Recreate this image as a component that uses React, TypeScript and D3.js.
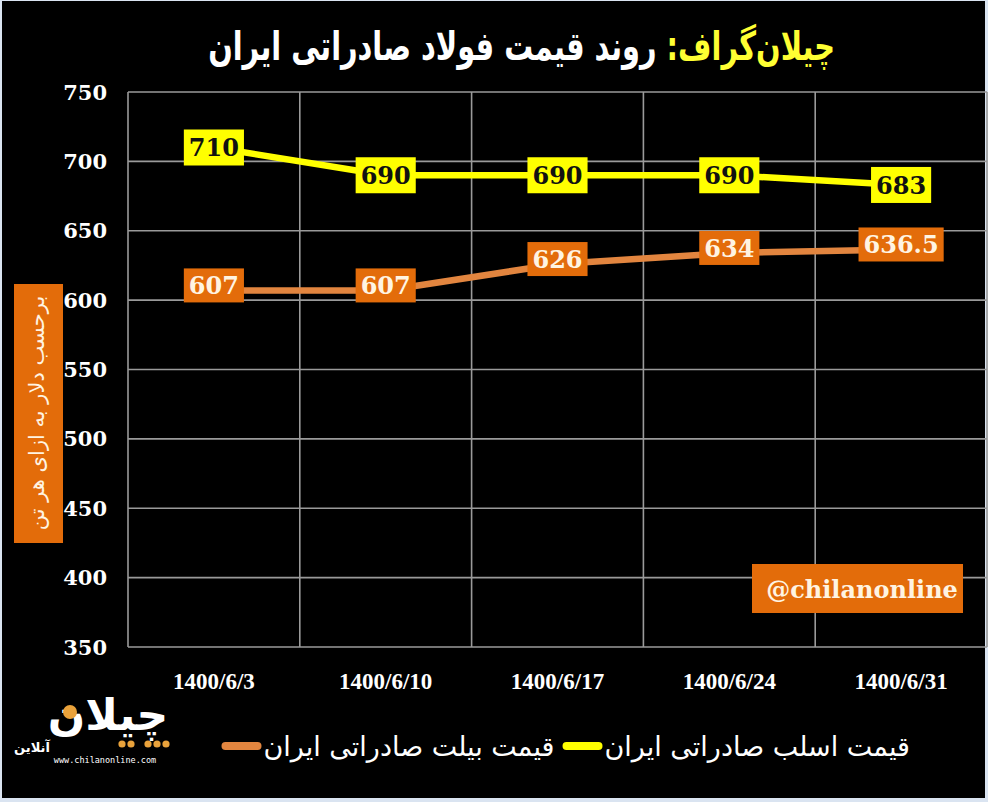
import React, { useEffect, useRef } from "react";
import * as d3 from "d3";

// chart values
const categories = ["1400/6/3", "1400/6/10", "1400/6/17", "1400/6/24", "1400/6/31"];
const slabPrices = [710, 690, 690, 690, 683];
const billetPrices = [607, 607, 626, 634, 636.5];
const yTicks = [350, 400, 450, 500, 550, 600, 650, 700, 750];

const slabName = "قیمت اسلب صادراتی ایران";
const billetName = "قیمت بیلت صادراتی ایران";
const titleBrand = "چیلان‌گراف:";
const titleText = "روند قیمت فولاد صادراتی ایران";
const yAxisTitle = "برحسب دلار به ازای هر تن";
const watermark = "@chilanonline";

const W = 988;
const H = 802;
const PERSIAN = "'DejaVu Sans', 'Noto Sans', sans-serif";
const SERIF = "'DejaVu Serif', serif";

const App = () => {
  const ref = useRef<SVGSVGElement>(null);

  useEffect(() => {
    const svg = d3.select(ref.current);
    svg.selectAll("*").remove();

    const margin = { top: 92, right: 1, bottom: 155, left: 128 };

    // frame
    svg.append("rect").attr("width", W).attr("height", H).attr("fill", "#dae4f1");
    svg
      .append("rect")
      .attr("x", 2)
      .attr("y", 1)
      .attr("width", W - 5)
      .attr("height", H - 5)
      .attr("fill", "#000");

    //scales
    const x = d3
      .scaleBand<string>()
      .domain(categories)
      .range([margin.left, W - margin.right]);
    const y = d3
      .scaleLinear()
      .domain([350, 750])
      .range([H - margin.bottom, margin.top]);

    const grid = svg.append("g").attr("stroke", "#9a9a9a").attr("stroke-width", 1.6);
    // horizontal grid
    grid
      .selectAll("line.h")
      .data(yTicks)
      .enter()
      .append("line")
      .attr("class", "h")
      .attr("x1", margin.left)
      .attr("x2", W - margin.right)
      .attr("y1", (d) => y(d))
      .attr("y2", (d) => y(d));
    // vertical grid at category boundaries
    const bounds = categories.map((c) => x(c) as number).concat([W - margin.right]);
    grid
      .selectAll("line.v")
      .data(bounds)
      .enter()
      .append("line")
      .attr("class", "v")
      .attr("x1", (d) => d)
      .attr("x2", (d) => d)
      .attr("y1", y(750))
      .attr("y2", y(350));

    // y tick labels
    svg
      .append("g")
      .selectAll("text")
      .data(yTicks)
      .enter()
      .append("text")
      .attr("x", 107)
      .attr("y", (d) => y(d))
      .attr("dy", "0.36em")
      .attr("text-anchor", "end")
      .attr("fill", "#fff")
      .attr("font-family", SERIF)
      .attr("font-weight", "bold")
      .attr("font-size", 21)
      .text((d) => d);

    // x tick labels
    const cx = (c: string) => (x(c) as number) + x.bandwidth() / 2;
    svg
      .append("g")
      .selectAll("text")
      .data(categories)
      .enter()
      .append("text")
      .attr("x", (d) => cx(d))
      .attr("y", 689)
      .attr("text-anchor", "middle")
      .attr("fill", "#fff")
      .attr("font-family", "'Liberation Serif', serif")
      .attr("font-weight", "bold")
      .attr("font-size", 23)
      .text((d) => d);

    const series = [
      { name: slabName, values: slabPrices, line: "#ffff00", box: "#ffff00", ink: "#111", dy: 0 },
      { name: billetName, values: billetPrices, line: "#e2853f", box: "#e36c0a", ink: "#fff4e2", dy: -5 },
    ];

    // lines
    const line = d3
      .line<number>()
      .x((d, i) => cx(categories[i]))
      .y((d) => y(d));

    series.forEach((s) => {
      svg
        .append("path")
        .datum(s.values)
        .attr("fill", "none")
        .attr("stroke", s.line)
        .attr("stroke-width", 6.5)
        .attr("stroke-linejoin", "round")
        .attr("d", line);
    });

    // data labels
    series.forEach((s) => {
      s.values.forEach((v, i) => {
        const g = svg
          .append("g")
          .attr("transform", `translate(${cx(categories[i])},${y(v) + s.dy})`);
        const rect = g.append("rect").attr("fill", s.box);
        const t = g
          .append("text")
          .attr("text-anchor", "middle")
          .attr("dy", "0.37em")
          .attr("fill", s.ink)
          .attr("font-family", SERIF)
          .attr("font-weight", "bold")
          .attr("font-size", 24)
          .text(v);
        const w = (t.node() as SVGTextElement).getComputedTextLength() + 10;
        const h = s.dy === 0 ? 36 : 34;
        rect
          .attr("x", -w / 2)
          .attr("y", -h / 2)
          .attr("width", w)
          .attr("height", h);
      });
    });

    // title, squeezed horizontally like the condensed original face
    const title = svg.append("g").attr("transform", "translate(835,60) scale(0.72,1)");
    const brand = title
      .append("text")
      .attr("text-anchor", "middle")
      .attr("direction", "rtl")
      .attr("fill", "#ffff33")
      .attr("font-family", PERSIAN)
      .attr("font-weight", "bold")
      .attr("font-size", 40)
      .text(titleBrand);
    const bw = (brand.node() as SVGTextElement).getComputedTextLength();
    brand.attr("x", -bw / 2);
    const main = title
      .append("text")
      .attr("text-anchor", "middle")
      .attr("direction", "rtl")
      .attr("fill", "#fff")
      .attr("font-family", PERSIAN)
      .attr("font-weight", "bold")
      .attr("font-size", 40)
      .text(titleText);
    const mw = (main.node() as SVGTextElement).getComputedTextLength();
    main.attr("x", -bw - 14 - mw / 2);

    // y axis title
    svg
      .append("rect")
      .attr("x", 14)
      .attr("y", 284)
      .attr("width", 49)
      .attr("height", 259)
      .attr("fill", "#e36c0a");
    svg
      .append("text")
      .attr("transform", "translate(38,413) rotate(-90)")
      .attr("text-anchor", "middle")
      .attr("dy", "0.3em")
      .attr("direction", "rtl")
      .attr("fill", "#fff4e2")
      .attr("font-family", PERSIAN)
      .attr("font-size", 21)
      .text(yAxisTitle);

    // watermark
    svg
      .append("rect")
      .attr("x", 752)
      .attr("y", 564)
      .attr("width", 211)
      .attr("height", 49)
      .attr("fill", "#e36c0a");
    svg
      .append("text")
      .attr("x", 862)
      .attr("y", 589)
      .attr("dy", "0.36em")
      .attr("text-anchor", "middle")
      .attr("fill", "#fff4e2")
      .attr("font-family", SERIF)
      .attr("font-weight", "bold")
      .attr("font-size", 24)
      .text(watermark);

    // legend, laid out right to left
    let lx = 910;
    series.forEach((s) => {
      const t = svg
        .append("text")
        .attr("y", 756)
        .attr("text-anchor", "middle")
        .attr("direction", "rtl")
        .attr("fill", "#fff")
        .attr("font-family", PERSIAN)
        .attr("font-size", 27)
        .text(s.name);
      const tw = (t.node() as SVGTextElement).getComputedTextLength();
      t.attr("x", lx - tw / 2);
      lx -= tw + 6;
      svg
        .append("line")
        .attr("x1", lx)
        .attr("x2", lx - 32)
        .attr("y1", 746)
        .attr("y2", 746)
        .attr("stroke", s.line)
        .attr("stroke-width", 8)
        .attr("stroke-linecap", "round");
      lx -= 44;
    });

    // logo
    const logo = svg.append("g");
    logo
      .append("text")
      .attr("x", 108)
      .attr("y", 730)
      .attr("text-anchor", "middle")
      .attr("fill", "#fff")
      .attr("font-family", PERSIAN)
      .attr("font-weight", "bold")
      .attr("font-size", 44)
      .text("چیلان");
    logo.append("circle").attr("cx", 70).attr("cy", 712).attr("r", 7).attr("fill", "#e9a23b");
    [122, 131, 148, 157, 166].forEach((c) =>
      logo.append("circle").attr("cx", c).attr("cy", 744).attr("r", 3.6).attr("fill", "#e9a23b")
    );
    logo
      .append("text")
      .attr("x", 32)
      .attr("y", 752)
      .attr("text-anchor", "middle")
      .attr("fill", "#fff")
      .attr("font-family", PERSIAN)
      .attr("font-weight", "bold")
      .attr("font-size", 13)
      .text("آنلاین");
    logo
      .append("text")
      .attr("x", 105)
      .attr("y", 763)
      .attr("text-anchor", "middle")
      .attr("fill", "#fff")
      .attr("font-family", "'DejaVu Sans Mono', monospace")
      .attr("font-size", 8.5)
      .text("www.chilanonline.com");
  }, []);

  return (
    <svg
      ref={ref}
      width={W}
      height={H}
      style={{ position: "absolute", left: 0, top: 0 }}
    />
  );
};

export default App;
